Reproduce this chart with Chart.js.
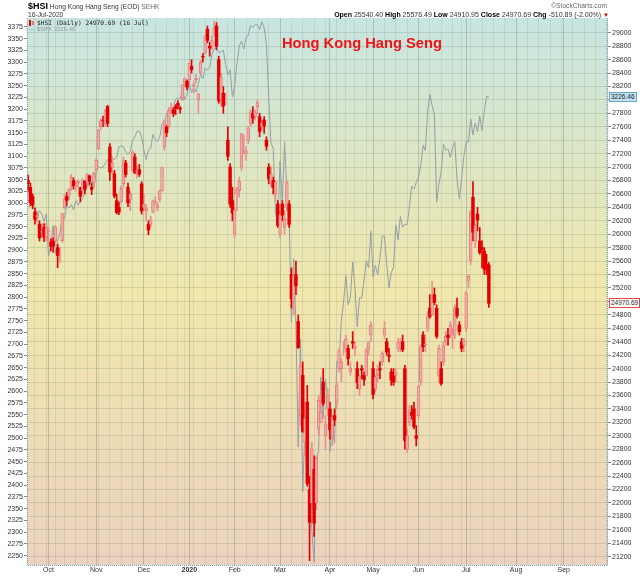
<!DOCTYPE html>
<html>
<head>
<meta charset="utf-8">
<script src="https://cdn.jsdelivr.net/npm/chart.js@4.4.1/dist/chart.umd.min.js"></script>
<style>
  body { margin: 0; background: #fff; }
  #wrap { position: relative; width: 640px; height: 576px; overflow: hidden; font-family: 'Liberation Sans', Arial, sans-serif; color: #222; }
  #graph { position: absolute; left: 0; top: 0; }
  .abs { position: absolute; white-space: nowrap; }
  .hdr { font-size: 6.7px; line-height: 8px; color: #333; }
  .hdr b { color: #000; }
  .legend1 { font-family: 'DejaVu Sans Mono', monospace; font-size: 6.2px; line-height: 7px; color: #222; }
  .legend2 { font-size: 6px; line-height: 7px; color: #8e9ca2; }
  .title { font-size: 14.7px; line-height: 16px; font-weight: bold; color: #f01414; }
  .vbox { font-size: 6.5px; line-height: 8px; height: 8px; padding: 0 1px; }
</style>
</head>
<body>
<div id="wrap">
  <canvas id="graph" width="640" height="576"></canvas>

  <div class="abs hdr" style="left:28px;top:1px;line-height:10px;"><b style="font-size:9px;">$HSI</b> Hong Kong Hang Seng (EOD) <span style="color:#666;">SEHK</span></div>
  <div class="abs hdr" style="left:28px;top:11px;">16-Jul-2020</div>
  <div class="abs hdr" style="right:33px;top:2px;color:#666;">&copy;StockCharts.com</div>
  <div class="abs hdr" style="right:31px;top:11px;font-size:7px;"><b>Open</b> 25540.40 <b>High</b> 25576.49 <b>Low</b> 24910.95 <b>Close</b> 24970.69 <b>Chg</b> -510.89 (-2.00%) <span style="color:#e00000;font-size:6px;">&#9660;</span></div>

  <div class="abs" style="left:29px;top:20px;width:2px;height:6px;background:#e00000;"></div>
  <div class="abs" style="left:32px;top:21px;width:2px;height:4px;background:#e87878;"></div>
  <div class="abs legend1" style="left:37px;top:19px;">$HSI (Daily) 24970.69 (16 Jul)</div>
  <div class="abs legend2" style="left:29px;top:26px;">&mdash; $SPX 3226.46</div>

  <div class="abs title" style="left:282px;top:35px;">Hong Kong Hang Seng</div>

  <div id="spxBox" class="abs vbox" style="left:609px;background:#c4e2ee;border:1px solid #6aa6c6;color:#123;">3226.46</div>
  <div id="hsiBox" class="abs vbox" style="left:609px;background:#fff;border:1px solid #e04848;color:#222;">24970.69</div>
</div>

<script>
// HSI daily candles, 18 Sep 2019 .. 16 Jul 2020 (one value per HK trading day)
const hsiOpen = [
  26800,26700,26560,26330,26250,26150,26030,26100,25950,
  26040,25880,25900,25900,25800,25700,25900,26400,26560,26580,26700,26800,26700,26760,26690,26640,26790,26760,26870,26700,26770,
  26960,27270,27600,27700,27650,27900,27300,27000,26900,26500,26400,26480,26750,27060,26700,26520,26950,27150,26900,26960,26750,
  26400,26350,26150,26150,26330,26480,26400,26520,26650,27300,27600,27600,27880,27850,27900,27950,27880,28000,28250,28280,
  28300,28500,28200,28300,28000,28400,28650,28700,29050,28800,28800,28990,29100,28600,28000,28100,27950,27400,27000,26500,
  26000,26600,26650,27000,27400,27200,27400,27650,27800,27750,27900,27750,27600,27700,27400,27000,26750,26800,26600,26450,
  26000,26450,26100,26400,26450,25400,25000,25400,24700,23300,23900,22900,23500,22200,22000,22500,22000,23100,23200,23800,23000,23400,
  23400,23000,23300,23500,24000,24000,24300,24300,24300,23950,24400,24300,24000,23700,24000,23900,23900,24300,24500,
  24000,23700,23900,24000,24100,24500,24400,24200,23950,23900,23900,24300,24300,24400,24000,22800,23200,23350,23400,23000,
  23300,23800,24500,24350,24600,24900,24800,25100,24900,23900,24000,24100,24400,24500,24500,24500,24500,24900,24650,24400,24350,
  24600,25300,25600,26550,25900,26300,25900,25800,25750,25550,25540.40
];
const hsiHigh = [
  26880,26760,26600,26390,26340,26200,26160,26160,26160,
  26100,25930,25950,26130,25850,25810,26310,26590,26620,26680,26890,26840,26780,26810,26700,26830,26800,26900,26880,26760,26930,
  27130,27560,27720,27760,27850,27920,27350,27160,26950,26600,26480,26720,27150,27100,26760,26640,27250,27200,27020,27040,26780,
  26600,26440,26200,26270,26510,26560,26480,26660,27000,27700,27620,27890,27950,27880,27930,27990,27900,28230,28330,28300,
  28550,28600,28280,28380,28100,28600,28690,28960,29100,28860,28960,29175,29150,28650,28400,28200,28100,27600,27050,26700,
  26400,26700,26850,27500,27480,27300,27600,27850,27900,27850,28000,27800,27700,27750,27450,27050,27000,26850,26800,26500,
  26350,26500,26350,26800,26500,25500,25450,25600,24800,24100,24100,23500,23750,22400,22900,22700,22700,23600,23600,24000,23300,23700,
  23500,23300,23400,23800,24300,24150,24400,24500,24350,24100,24550,24400,24100,23900,24050,23950,24300,24400,24700,
  24100,23900,24050,24100,24250,24700,24450,24300,24000,24000,24000,24450,24450,24500,24050,23100,23450,23450,23500,23150,
  23750,24350,24550,24500,24850,25100,25300,25200,24950,24350,24100,24400,24550,24600,24700,24600,24950,25050,24700,24450,24450,
  25150,25400,26350,26782,26150,26400,26100,25900,25800,25700,25576.49
];
const hsiLow = [
  26640,26420,26380,26150,26180,25900,25960,25890,25900,
  25890,25750,25730,25850,25500,25580,25880,26380,26430,26520,26650,26670,26640,26700,26480,26600,26600,26700,26740,26590,26700,
  26930,27260,27560,27600,27600,27600,26800,26900,26540,26300,26290,26460,26700,26850,26410,26350,26940,26900,26840,26860,26300,
  26350,26200,25990,26100,26320,26440,26350,26480,26640,27250,27450,27580,27800,27750,27780,27860,27800,27990,28200,28150,
  28250,28400,28100,28250,27800,28380,28560,28680,28850,28650,28750,28950,28750,27950,27900,27800,27930,27100,26400,26200,
  25950,26350,26550,26950,27200,27100,27350,27600,27650,27700,27800,27450,27550,27500,27250,26750,26700,26600,26500,26100,
  25950,26200,26000,26350,26100,24900,24800,25100,24300,23150,23050,22700,22250,21140,21900,21500,21900,23000,23200,23450,22800,23300,
  22950,22850,23150,23400,23950,23800,24200,24250,24050,23900,24300,24200,23700,23600,23850,23750,23900,24200,24400,
  23550,23650,23800,23850,24050,24450,24200,24100,23750,23750,23800,24250,24250,24250,22800,22750,23150,23250,23100,22850,
  23250,23750,24250,24250,24550,24750,24800,24950,24450,23800,23750,24050,24350,24350,24450,24300,24450,24750,24500,24250,24250,
  24550,25200,25550,25900,25800,26050,25700,25500,25400,25400,24910.95
];
const hsiClose = [
  26754,26469,26435,26222,26281,25945,26041,25955,26092,
  26042,25821,25821,26111,25682,25707,26308,26521,26503,26664,26848,26720,26726,26786,26566,26797,26667,26891,26787,26667,26906,
  27101,27548,27684,27689,27848,27651,26926,27066,26571,26323,26327,26682,27094,26889,26467,26596,27227,26914,26954,26894,26346,
  26445,26391,26063,26218,26498,26495,26437,26645,26994,27688,27509,27843,27884,27800,27871,27906,27864,28225,28319,28190,
  28544,28452,28226,28322,28087,28561,28638,28955,28885,28773,28883,29056,28795,27985,28341,27909,27950,27160,26449,26313,
  26356,26675,26786,27493,27404,27241,27584,27823,27730,27816,27960,27530,27656,27609,27309,26821,26893,26696,26778,26130,
  26292,26284,26222,26768,26147,25040,25392,25232,24310,24033,23064,23264,22291,21710,22805,21697,22663,23527,23352,23484,23175,23603,
  23085,23280,23236,23749,24254,24093,24300,24435,24146,24006,24380,24330,23793,23893,23977,23832,24280,24385,24644,
  23614,23868,23990,23980,24231,24603,24245,24180,23829,23797,23934,24388,24400,24281,22930,23000,23384,23301,23132,22961,
  23732,24325,24325,24366,24770,24776,25057,24982,24480,24301,23777,24344,24481,24465,24644,24511,24907,24782,24550,24301,24427,
  25124,25373,26339,26029,26130,26210,25727,25772,25477,25482,24970.69
];
// S&P 500 close on the same HK trading days (left axis)
const spxClose = [
  3006,3006,2992,2992,2966,2984,2977,2961,2977,
  2887,2910,2952,2893,2919,2938,2970,2966,2995,2990,2997,2986,3006,2996,3004,3010,3023,3039,3036,3047,3038,
  3067,3078,3075,3077,3085,3093,3087,3091,3094,3097,3120,3122,3120,3108,3104,3110,3134,3141,3153,3153,3141,
  3113,3093,3113,3117,3146,3136,3132,3141,3169,3169,3191,3192,3191,3205,3221,3224,3223,3240,3221,3231,
  3258,3235,3246,3237,3253,3275,3265,3288,3283,3289,3317,3330,3330,3321,3321,3326,3295,3273,3284,3226,
  3249,3298,3334,3345,3328,3352,3358,3379,3374,3380,3380,3370,3386,3373,3338,3226,3128,3116,2979,2954,
  3090,3003,3130,3024,2972,2747,2882,2741,2481,2711,2386,2529,2398,2409,2305,2237,2447,2476,2630,2541,2627,2585,
  2471,2527,2489,2664,2660,2750,2790,2846,2784,2800,2875,2823,2737,2799,2798,2837,2878,2863,2940,
  2843,2868,2848,2882,2930,2930,2870,2820,2852,2864,2954,2922,2972,2949,2955,2955,2992,3036,3030,3044,
  3056,3081,3123,3112,3194,3232,3208,3190,3002,3041,3067,3125,3113,3115,3098,3118,3131,3050,3009,3053,3100,
  3130,3130,3179,3145,3170,3152,3185,3155,3197,3227,3226.46
];

const spxTicks = [2250,2275,2300,2325,2350,2375,2400,2425,2450,2475,2500,2525,2550,2575,2600,2625,2650,2675,2700,2725,
  2750,2775,2800,2825,2850,2875,2900,2925,2950,2975,3000,3025,3050,3075,3100,3125,3150,3175,3200,3225,3250,3275,3300,3325,3350,3375];
const hsiTicks = [21200,21400,21600,21800,22000,22200,22400,22600,22800,23000,23200,23400,23600,23800,24000,24200,24400,24600,24800,
  25000,25200,25400,25600,25800,26000,26200,26400,26600,26800,27000,27200,27400,27600,27800,28000,28200,28400,28600,28800,29000];
const monthTickLabels = ['Oct','Nov','Dec','2020','Feb','Mar','Apr','May','Jun','Jul','Aug','Sep'];

// HK exchange calendar for the axis
const hkHolidays = ['2019-10-01','2019-10-07','2019-12-25','2019-12-26','2020-01-01','2020-01-27','2020-01-28',
  '2020-04-10','2020-04-13','2020-04-30','2020-05-01','2020-06-25','2020-07-01'];
const firstDay = '2019-09-18';
const lastDay = '2020-09-28';

[hsiOpen, hsiHigh, hsiLow, hsiClose, spxClose].forEach((a, i) => {
  if (a.length !== hsiClose.length) throw new Error('length mismatch ' + i + ': ' + a.length + ' vs ' + hsiClose.length);
});

let tradingDays = [], weekStart = [], monthStart = [];
let day = new Date(firstDay + 'T00:00:00Z');
const end = new Date(lastDay + 'T00:00:00Z');
let prevDow = 9, prevMonth = -1;
while (day <= end) {
  const dow = day.getUTCDay();
  const iso = day.toISOString().slice(0, 10);
  if (dow !== 0 && dow !== 6 && !hkHolidays.includes(iso)) {
    weekStart.push(tradingDays.length > 0 && dow < prevDow);
    monthStart.push(tradingDays.length > 0 && day.getUTCMonth() !== prevMonth);
    tradingDays.push(iso);
    prevDow = dow;
    prevMonth = day.getUTCMonth();
  }
  day.setUTCDate(day.getUTCDate() + 1);
}
let k = 0;
const monthLabel = monthStart.map(m => m ? monthTickLabels[k++] : '');

const isDown = i => hsiClose[i] < hsiOpen[i];
const FONT = "'Liberation Sans', Arial, sans-serif";
Chart.defaults.font.family = FONT;

const backdrop = {
  id: 'backdrop',
  beforeDraw(chart) {
    const {ctx, chartArea: a} = chart;
    const g = ctx.createLinearGradient(0, a.top, 0, a.bottom);
    g.addColorStop(0, '#c8e5e2');
    g.addColorStop(0.25, '#dde6c6');
    g.addColorStop(0.5, '#f0e7ac');
    g.addColorStop(1, '#ebd2bf');
    ctx.save();
    ctx.fillStyle = g;
    ctx.fillRect(a.left, a.top, a.right - a.left, a.bottom - a.top);
    ctx.restore();
  },
  afterDraw(chart) {
    const {ctx, chartArea: a} = chart;
    ctx.save();
    ctx.strokeStyle = '#6aa2cc';
    ctx.lineWidth = 1;
    ctx.setLineDash([1, 1]);
    ctx.beginPath();
    ctx.moveTo(a.left + 0.5, a.top);
    ctx.lineTo(a.left + 0.5, a.bottom + 0.5);
    ctx.lineTo(a.right - 0.5, a.bottom + 0.5);
    ctx.lineTo(a.right - 0.5, a.top);
    ctx.stroke();
    ctx.restore();
  }
};

const chart = new Chart(document.querySelector('#graph').getContext('2d'), {
  type: 'bar',
  data: {
    labels: tradingDays,
    datasets: [
      {
        type: 'line',
        label: '$SPX',
        data: spxClose,
        yAxisID: 'yL',
        borderColor: '#949fa4',
        borderWidth: 1,
        pointRadius: 0,
        tension: 0,
        order: 3
      },
      {
        label: 'range',
        data: hsiLow.map((l, i) => [l, hsiHigh[i]]),
        yAxisID: 'yR',
        grouped: false,
        barThickness: 1,
        backgroundColor: c => isDown(c.dataIndex) ? '#e40000' : '#e89090',
        order: 2
      },
      {
        label: 'body',
        data: hsiOpen.map((o, i) => [o, hsiClose[i]]),
        yAxisID: 'yR',
        grouped: false,
        barThickness: 2.8,
        borderSkipped: false,
        backgroundColor: c => isDown(c.dataIndex) ? '#e40000' : 'rgba(240,182,176,0.75)',
        borderColor: '#e47070',
        borderWidth: c => isDown(c.dataIndex) ? 0 : 0.7,
        order: 1
      }
    ]
  },
  options: {
    responsive: false,
    animation: false,
    layout: { padding: { top: 18, left: 0, right: 0, bottom: 0 } },
    plugins: { legend: { display: false }, tooltip: { enabled: false } },
    scales: {
      x: {
        offset: true,
        border: { display: false },
        grid: {
          offset: false,
          drawTicks: false,
          color: c => monthStart[c.index] ? 'rgba(95,115,95,0.32)' : (weekStart[c.index] ? 'rgba(95,115,95,0.13)' : 'rgba(0,0,0,0)')
        },
        ticks: {
          autoSkip: false,
          maxRotation: 0,
          minRotation: 0,
          padding: 1,
          color: '#333',
          font: c => ({ family: FONT, size: 7, weight: monthLabel[c.index] === '2020' ? 'bold' : 'normal' }),
          callback: (v, i) => monthLabel[i]
        },
        afterFit: s => { s.height = 11; }
      },
      yL: {
        position: 'left',
        min: 2230.2,
        max: 3394.1,
        afterBuildTicks: a => { a.ticks = spxTicks.map(v => ({ value: v })); },
        border: { display: false },
        grid: { drawOnChartArea: false, tickLength: 3, tickColor: '#888' },
        ticks: { padding: 1, color: '#333', font: { size: 7 }, callback: v => String(v) },
        afterFit: s => { s.width = 27; }
      },
      yR: {
        position: 'right',
        min: 21076,
        max: 29219,
        afterBuildTicks: a => { a.ticks = hsiTicks.map(v => ({ value: v })); },
        border: { display: false },
        grid: { color: 'rgba(110,130,100,0.22)', tickLength: 3, tickColor: '#888' },
        ticks: { padding: 1, color: '#333', font: { size: 7 }, callback: v => String(v) },
        afterFit: s => { s.width = 32; }
      }
    }
  },
  plugins: [backdrop]
});

// last-value markers on the right axis
const spxBox = document.querySelector('#spxBox');
const hsiBox = document.querySelector('#hsiBox');
spxBox.style.top = (chart.scales.yL.getPixelForValue(spxClose[spxClose.length - 1]) - 5) + 'px';
hsiBox.style.top = (chart.scales.yR.getPixelForValue(hsiClose[hsiClose.length - 1]) - 5) + 'px';
</script>
</body>
</html>
